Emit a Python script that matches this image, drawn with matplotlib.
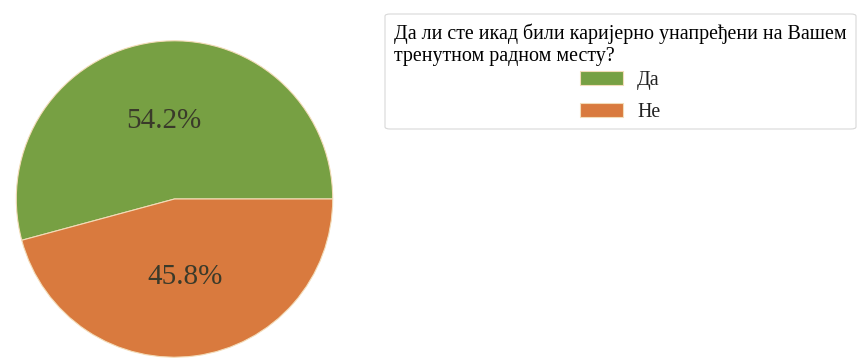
import matplotlib
matplotlib.use("Agg")
import matplotlib.pyplot as plt
from matplotlib.patches import FancyBboxPatch

categories = ["Да", "Не"]
values = [54.2, 45.8]
colors = ["#77a043", "#d97a3e"]
legend_title = "Да ли сте икад били каријерно унапређени на Вашем\nтренутном радном месту?"

plt.rcParams['font.family'] = ['Liberation Serif', 'DejaVu Serif']

W, H = 859, 360
fig = plt.figure(figsize=(W / 100, H / 100), dpi=100)
cx, cy, r = 174.5, 199, 159
ax = fig.add_axes([(cx - r) / W, (H - cy - r) / H, 2 * r / W, 2 * r / H])
wedges, texts, autotexts = ax.pie(
    values, colors=colors, startangle=0, counterclock=True,
    autopct='%1.1f%%', pctdistance=0.5, radius=1,
    wedgeprops=dict(edgecolor='#f3dcb8', linewidth=0.8),
    textprops=dict(fontsize=21, color='#3a3a2a'))
ax.set_xlim(-1.005, 1.005)
ax.set_ylim(-1.005, 1.005)
ax.set_aspect('equal')

# legend frame drawn separately (pixel box 385..856 x 14..129)
x0, x1, y0, y1 = 385, 856, 14, 129
frame = FancyBboxPatch((x0 / W, 1 - y1 / H), (x1 - x0) / W, (y1 - y0) / H,
                       boxstyle="round,pad=0,rounding_size=0.006",
                       transform=fig.transFigure, facecolor='white',
                       edgecolor='#d8d8d8', linewidth=0.8)
fig.patches.append(frame)

fs = 14.4
leg = fig.legend(wedges, categories, title=legend_title,
                 loc='upper left', bbox_to_anchor=(394 / W, 1 - 23.5 / H),
                 borderaxespad=0, frameon=False,
                 fontsize=fs, title_fontsize=fs,
                 handlelength=2.15, handleheight=0.7, labelspacing=0.63,
                 borderpad=0, handletextpad=0.68)
leg.get_title().set_multialignment('left')
leg.get_title().set_linespacing(1.2)
leg._legend_box.sep = 4.0
for t in leg.get_texts():
    t.set_color('#222222')

fig.savefig("out.png", dpi=100)
